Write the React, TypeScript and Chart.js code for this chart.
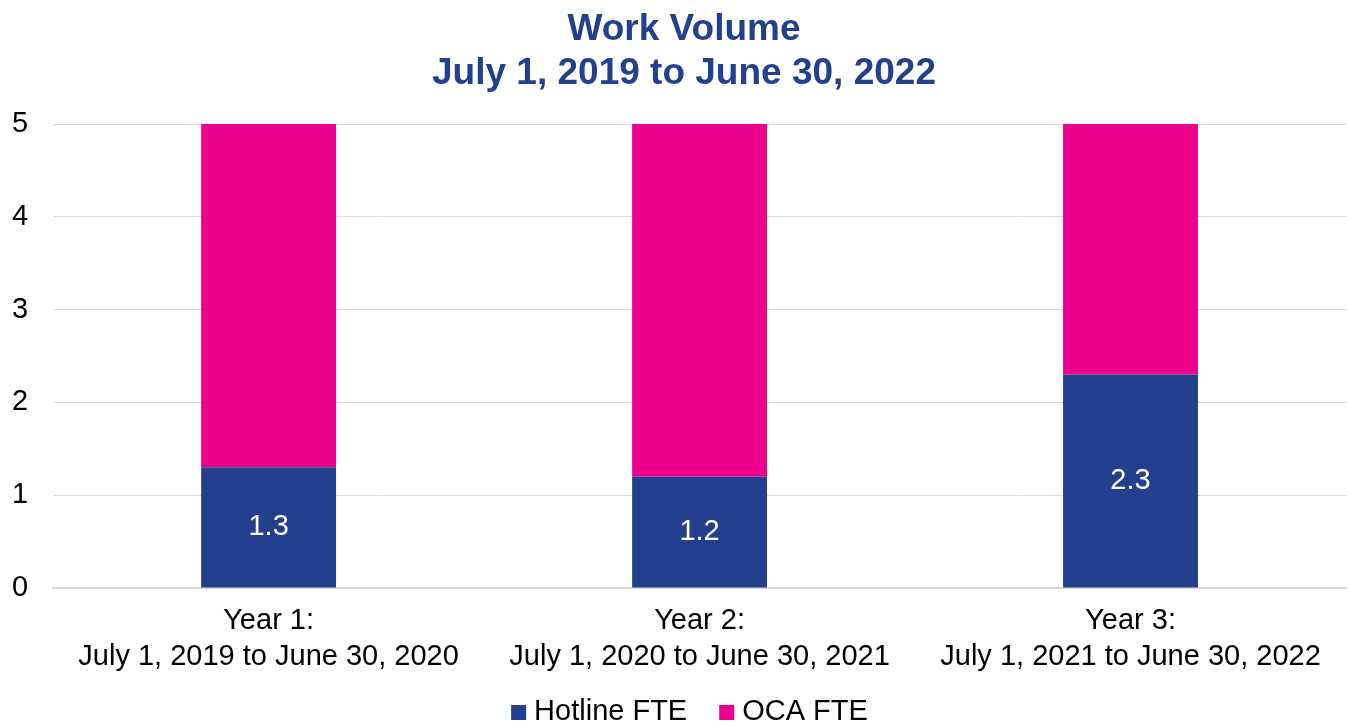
import React, { useEffect, useRef } from "react";
import { Chart, registerables } from "chart.js";

Chart.register(...registerables);

const categories: string[][] = [
  ["Year 1:", "July 1, 2019 to June 30, 2020"],
  ["Year 2:", "July 1, 2020 to June 30, 2021"],
  ["Year 3:", "July 1, 2021 to June 30, 2022"],
];
const hotlineFTE: number[] = [1.3, 1.2, 2.3];
const ocaFTE: number[] = [3.7, 3.8, 2.7];
const yTicks: number[] = [0, 1, 2, 3, 4, 5];
const titleLines: string[] = ["Work Volume", "July 1, 2019 to June 30, 2022"];

const BLUE = "#23408E";
const PINK = "#EC008C";
const FONT = "'Liberation Sans', Arial, sans-serif";

const barLabelPlugin = {
  id: "barLabels",
  afterDatasetsDraw(chart: any) {
    const ctx = chart.ctx;
    const meta = chart.getDatasetMeta(0);
    ctx.save();
    ctx.fillStyle = "#ffffff";
    ctx.font = `29px ${FONT}`;
    ctx.textAlign = "center";
    ctx.textBaseline = "middle";
    meta.data.forEach((bar: any, i: number) => {
      const { x, y, base } = bar.getProps(["x", "y", "base"], true);
      ctx.fillText(String(hotlineFTE[i]), x, (y + base) / 2);
    });
    ctx.restore();
  },
};

const titlePlugin = {
  id: "customTitle",
  afterDraw(chart: any) {
    const ctx = chart.ctx;
    ctx.save();
    ctx.fillStyle = BLUE;
    ctx.font = `bold 37px ${FONT}`;
    ctx.textAlign = "center";
    ctx.textBaseline = "middle";
    titleLines.forEach((line, i) => {
      ctx.fillText(line, 684, 30 + i * 44);
    });
    ctx.restore();
  },
};

const legendPlugin = {
  id: "customLegend",
  afterDraw(chart: any) {
    const ctx = chart.ctx;
    ctx.save();
    ctx.font = `29px ${FONT}`;
    ctx.textBaseline = "alphabetic";
    ctx.textAlign = "left";
    const box = 15;
    const gap = 8;
    const itemGap = 32;
    const items = chart.data.datasets.map((d: any) => ({
      label: d.label as string,
      color: d.backgroundColor as string,
      w: ctx.measureText(d.label).width,
    }));
    const total = items.reduce((s: number, it: any) => s + box + gap + it.w, 0) + itemGap * (items.length - 1);
    let x = 689.5 - total / 2;
    const baseline = 720;
    items.forEach((it: any) => {
      ctx.fillStyle = it.color;
      ctx.fillRect(x, 705, box, box);
      x += box + gap;
      ctx.fillStyle = "#000000";
      ctx.fillText(it.label, x, baseline);
      x += it.w + itemGap;
    });
    ctx.restore();
  },
};

export default function App() {
  const ref = useRef<HTMLCanvasElement | null>(null);
  useEffect(() => {
    if (!ref.current) return;
    const chart = new Chart(ref.current, {
      type: "bar",
      data: {
        labels: categories,
        datasets: [
          { label: "Hotline FTE", data: hotlineFTE, backgroundColor: BLUE, borderWidth: 0 },
          { label: "OCA FTE", data: ocaFTE, backgroundColor: PINK, borderWidth: 0 },
        ],
      },
      options: {
        responsive: false,
        animation: false,
        layout: { padding: { left: -13, right: 2, top: 124, bottom: 35 } },
        datasets: { bar: { barPercentage: 0.313, categoryPercentage: 1 } },
        plugins: {
          title: { display: false },
          legend: { display: false },
          tooltip: { enabled: false },
        },
        scales: {
          x: {
            stacked: true,
            grid: { display: false, drawTicks: false },
            border: { display: true, color: "#d9d9d9", width: 2 },
            ticks: {
              color: "#000000",
              font: { family: FONT, size: 29, lineHeight: 36 / 29 },
              padding: 15,
              maxRotation: 0,
              autoSkip: false,
            },
          },
          y: {
            stacked: true,
            min: 0,
            max: 5,
            afterBuildTicks: (axis: any) => {
              axis.ticks = yTicks.map((v) => ({ value: v }));
            },
            grid: { color: "#d9d9d9", drawTicks: false, lineWidth: 1 },
            border: { display: false },
            ticks: {
              color: "#000000",
              font: { family: FONT, size: 29 },
              padding: 25,
            },
          },
        },
      },
      plugins: [barLabelPlugin, titlePlugin, legendPlugin],
    } as any);
    return () => chart.destroy();
  }, []);
  return (
    <div style={{ position: "absolute", left: 0, top: 0, width: 1348, height: 725, background: "#fff" }}>
      <canvas ref={ref} width={1348} height={725} />
    </div>
  );
}
